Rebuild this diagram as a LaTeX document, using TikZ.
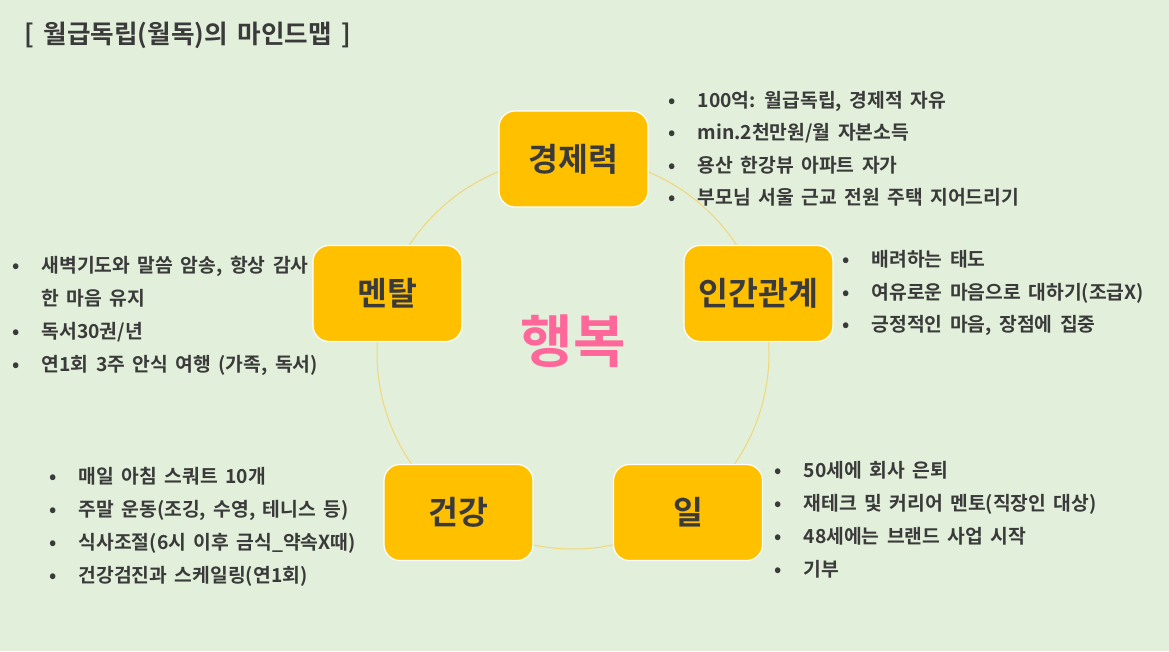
\documentclass[tikz,border=0pt]{standalone}
\usepackage{fontspec}
\setmainfont{Noto Sans CJK KR}[BoldFont={Noto Sans CJK KR Bold}, WordSpace=1.7]
\definecolor{bg}{HTML}{E2EFDA}
\definecolor{boxfill}{HTML}{FFC000}
\definecolor{ink}{HTML}{3A3A3A}
\definecolor{ringc}{HTML}{F0D77A}
\definecolor{hub}{HTML}{FF6699}
\tikzset{
  topic/.style={draw=white, line width=1.2pt, fill=boxfill, rounded corners=16pt,
    minimum width=149pt, minimum height=96pt, inner sep=0pt,
    font=\fontsize{32.5}{38}\selectfont\bfseries, text=ink},
  item/.style={anchor=west, inner sep=0pt, text height=14pt, text depth=4pt,
    font=\fontsize{19.3}{23}\selectfont\bfseries, text=ink},
}
\newcommand{\bul}[1]{\makebox[0pt][c]{•}\hspace{25.5pt}#1}
\begin{document}
\begin{tikzpicture}[x=1pt,y=-1pt]
\fill[bg] (0,0) rectangle (1169,651);
\useasboundingbox (0,0) rectangle (1169,651);
% title
\node[anchor=west, inner sep=0pt, text=ink, font=\fontsize{25.6}{30}\selectfont\bfseries] (title) at (24,35) {[ 월급독립(월독)의 마인드맵 ]};
% ring
\node[circle, draw=ringc, line width=1pt, minimum size=392pt, inner sep=0pt] (ring) at (573,353) {};
% hub
\node[inner sep=0pt, text=hub, font=\fontsize{57}{64}\selectfont\bfseries] (center) at (573,341) {행복};
% topics
\node[topic] (econ) at (573.5,159) {경제력};
\node[topic] (rel) at (758.5,293.5) {인간관계};
\node[topic] (mental) at (387.5,293.5) {멘탈};
\node[topic] (health) at (458.5,512.5) {건강};
\node[topic] (work) at (688,512.5) {일};
% economy items
\node[item] (e1) at (672,102) {\bul{100억: 월급독립, 경제적 자유}};
\node[item] (e2) at (672,134.5) {\bul{min.2천만원/월 자본소득}};
\node[item] (e3) at (672,167) {\bul{용산 한강뷰 아파트 자가}};
\node[item] (e4) at (672,199.5) {\bul{부모님 서울 근교 전원 주택 지어드리기}};
% relations items
\node[item] (r1) at (846,261.5) {\bul{배려하는 태도}};
\node[item] (r2) at (846,294) {\bul{여유로운 마음으로 대하기(조급X)}};
\node[item] (r3) at (846,326.5) {\bul{긍정적인 마음, 장점에 집중}};
% mental items
\node[item] (m1) at (16,267.5) {\bul{새벽기도와 말씀 암송, 항상 감사}};
\node[item] (m1b) at (16,300) {\hspace{25.5pt}한 마음 유지};
\node[item] (m2) at (16,333) {\bul{독서30권/년}};
\node[item] (m3) at (16,366.5) {\bul{연1회 3주 안식 여행 (가족, 독서)}};
% health items
\node[item] (h1) at (53,478.5) {\bul{매일 아침 스쿼트 10개}};
\node[item] (h2) at (53,511) {\bul{주말 운동(조깅, 수영, 테니스 등)}};
\node[item] (h3) at (53,544) {\bul{식사조절(6시 이후 금식\_약속X때)}};
\node[item] (h4) at (53,577) {\bul{건강검진과 스케일링(연1회)}};
% work items
\node[item] (w1) at (778,472.5) {\bul{50세에 회사 은퇴}};
\node[item] (w2) at (778,505.5) {\bul{재테크 및 커리어 멘토(직장인 대상)}};
\node[item] (w3) at (778,538) {\bul{48세에는 브랜드 사업 시작}};
\node[item] (w4) at (778,571) {\bul{기부}};
\end{tikzpicture}
\end{document}
